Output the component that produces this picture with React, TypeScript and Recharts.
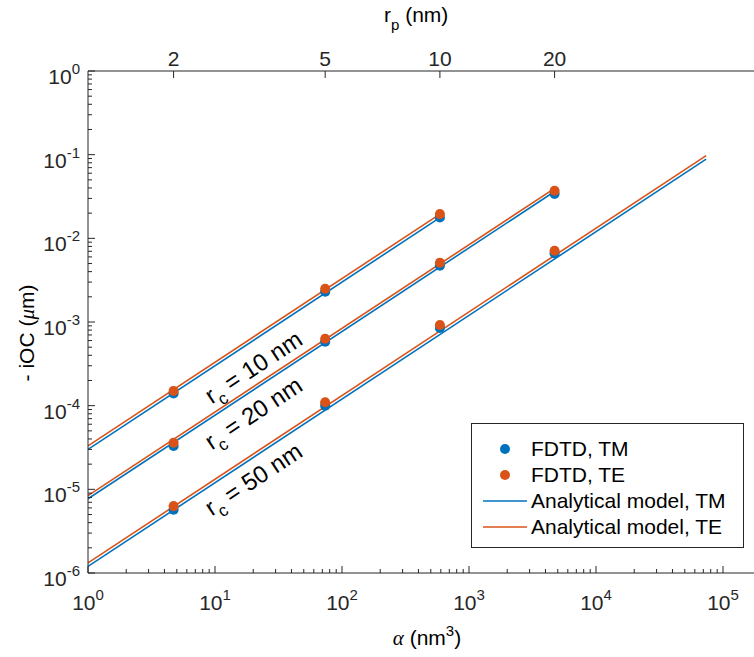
import React from 'react';
import { ComposedChart, Line, Scatter, XAxis, YAxis, ZAxis, Legend } from 'recharts';

const BLUE = '#0072BD';
const ORANGE = '#D95319';
const AXIS = '#262626';
const FONT = '"Liberation Sans", Arial, Helvetica, sans-serif';

// top axis: particle radius r_p (nm) and the matching alpha (nm^3)
const rpLabels = [2, 5, 10, 20];
const rpAlpha = [4.72, 73.7, 590, 4720];

// bottom / left decades
const xMajor = [1, 10, 100, 1000, 10000, 100000];
const yMajor = [1e-6, 1e-5, 1e-4, 1e-3, 1e-2, 1e-1, 1];

// analytical model, end points of each line (alpha, -iOC)
const lineAlpha10 = [1, 590];
const lineAlpha20 = [1, 4720];
const lineAlpha50 = [1, 73700];
const modelTM10 = [3.0e-5, 0.0177];
const modelTE10 = [3.3e-5, 0.0195];
const modelTM20 = [7.7e-6, 0.0363];
const modelTE20 = [8.4e-6, 0.0396];
const modelTM50 = [1.2e-6, 0.0885];
const modelTE50 = [1.32e-6, 0.0974];

// FDTD results at r_p = 2, 5, 10, 20 nm
const fdtdTM10 = [1.4e-4, 2.3e-3, 0.0178];
const fdtdTE10 = [1.5e-4, 2.5e-3, 0.0195];
const fdtdTM20 = [3.3e-5, 5.8e-4, 4.7e-3, 0.034];
const fdtdTE20 = [3.6e-5, 6.3e-4, 5.1e-3, 0.037];
const fdtdTM50 = [5.7e-6, 1.0e-4, 8.5e-4, 6.6e-3];
const fdtdTE50 = [6.3e-6, 1.1e-4, 9.2e-4, 7.1e-3];

const pts = (xs: number[], ys: number[]) => ys.map((v, i) => ({ a: xs[i], v }));

const withMinors = (majors: number[]) => {
  const out: number[] = [];
  majors.forEach((m, i) => {
    out.push(m);
    if (i < majors.length - 1) for (let k = 2; k <= 9; k++) out.push(m * k);
  });
  return out;
};

const xTicks = withMinors([...xMajor, 1000000]);
const yTicks = withMinors(yMajor);

const isMajor = (v: number) => Math.abs(Math.log10(v) - Math.round(Math.log10(v))) < 1e-6;
const expOf = (v: number) => String(Math.round(Math.log10(v)));

const BottomTick = (props: any) => {
  const { x, y, payload } = props;
  const major = isMajor(payload.value);
  const showLabel = major && payload.value <= 100000;
  return (
    <g>
      <line x1={x} x2={x} y1={y} y2={y - (major ? 7 : 4)} stroke={AXIS} strokeWidth={1} />
      {showLabel && (
        <text x={x} y={y + 37} textAnchor="middle" fill={AXIS} fontFamily={FONT} fontSize={21}>
          10<tspan dy={-10} fontSize={15}>{expOf(payload.value)}</tspan>
        </text>
      )}
    </g>
  );
};

const LeftTick = (props: any) => {
  const { x, y, payload } = props;
  const major = isMajor(payload.value);
  return (
    <g>
      <line x1={x} x2={x + (major ? 7 : 4)} y1={y} y2={y} stroke={AXIS} strokeWidth={1} />
      {major && (
        <text x={x - 8} y={y + 13} textAnchor="end" fill={AXIS} fontFamily={FONT} fontSize={21}>
          10<tspan dy={-10} fontSize={15}>{expOf(payload.value)}</tspan>
        </text>
      )}
    </g>
  );
};

const TopTick = (props: any) => {
  const { x, y, payload } = props;
  const idx = rpAlpha.indexOf(payload.value);
  return (
    <g>
      <line x1={x} x2={x} y1={y} y2={y + 7} stroke={AXIS} strokeWidth={1} />
      <text x={x} y={y - 5} textAnchor="middle" fill={AXIS} fontFamily={FONT} fontSize={21}>
        {rpLabels[idx]}
      </text>
    </g>
  );
};

const renderLegend = () => (
  <svg width={273} height={125} style={{ display: 'block' }}>
    <rect x={0.5} y={0.5} width={272} height={124} fill="#fff" stroke={AXIS} strokeWidth={1} />
    <circle cx={34} cy={26} r={5} fill={BLUE} />
    <circle cx={34} cy={52} r={5} fill={ORANGE} />
    <line x1={12} x2={56} y1={78} y2={78} stroke={BLUE} strokeWidth={1.5} />
    <line x1={12} x2={56} y1={104} y2={104} stroke={ORANGE} strokeWidth={1.5} />
    <g fontFamily={FONT} fontSize={21} fill="#000">
      <text x={60} y={33}>FDTD, TM</text>
      <text x={60} y={59}>FDTD, TE</text>
      <text x={60} y={85}>Analytical model, TM</text>
      <text x={60} y={111}>Analytical model, TE</text>
    </g>
  </svg>
);

const App: React.FC = () => {
  return (
    <div style={{ position: 'absolute', left: 0, top: 0, width: 754, height: 657, overflow: 'hidden', background: '#fff' }}>
      <ComposedChart width={860} height={657} margin={{ top: 0, right: 10, bottom: 0, left: 0 }}>
        <XAxis
          xAxisId="top"
          orientation="top"
          type="number"
          scale="log"
          dataKey="a"
          domain={[1, 1000000]}
          allowDataOverflow
          ticks={rpAlpha}
          interval={0}
          height={71}
          tickSize={0}
          tickMargin={0}
          tickLine={false}
          tick={<TopTick />}
          axisLine={{ stroke: AXIS, strokeWidth: 1 }}
        />
        <XAxis
          xAxisId="bottom"
          orientation="bottom"
          type="number"
          scale="log"
          dataKey="a"
          domain={[1, 1000000]}
          allowDataOverflow
          ticks={xTicks}
          interval={0}
          height={84}
          tickSize={0}
          tickMargin={0}
          tickLine={false}
          tick={<BottomTick />}
          axisLine={{ stroke: AXIS, strokeWidth: 1 }}
        />
        <YAxis
          yAxisId="left"
          type="number"
          scale="log"
          dataKey="v"
          domain={[1e-6, 1]}
          allowDataOverflow
          ticks={yTicks}
          interval={0}
          width={88}
          tickSize={0}
          tickMargin={0}
          tickLine={false}
          tick={<LeftTick />}
          axisLine={{ stroke: AXIS, strokeWidth: 1 }}
        />
        <ZAxis range={[80, 80]} />
        <Legend
          content={renderLegend}
          layout="horizontal"
          verticalAlign="middle"
          align="center"
          wrapperStyle={{ left: 471, top: 423, width: 273, height: 125 }}
        />
        <Line xAxisId="bottom" yAxisId="left" data={pts(lineAlpha10, modelTM10)} dataKey="v" stroke={BLUE} strokeWidth={1.6} dot={false} isAnimationActive={false} legendType="none" />
        <Line xAxisId="bottom" yAxisId="left" data={pts(lineAlpha10, modelTE10)} dataKey="v" stroke={ORANGE} strokeWidth={1.6} dot={false} isAnimationActive={false} legendType="none" />
        <Line xAxisId="bottom" yAxisId="left" data={pts(lineAlpha20, modelTM20)} dataKey="v" stroke={BLUE} strokeWidth={1.6} dot={false} isAnimationActive={false} legendType="none" />
        <Line xAxisId="bottom" yAxisId="left" data={pts(lineAlpha20, modelTE20)} dataKey="v" stroke={ORANGE} strokeWidth={1.6} dot={false} isAnimationActive={false} legendType="none" />
        <Line xAxisId="bottom" yAxisId="left" data={pts(lineAlpha50, modelTM50)} dataKey="v" stroke={BLUE} strokeWidth={1.6} dot={false} isAnimationActive={false} legendType="none" />
        <Line xAxisId="bottom" yAxisId="left" data={pts(lineAlpha50, modelTE50)} dataKey="v" stroke={ORANGE} strokeWidth={1.6} dot={false} isAnimationActive={false} legendType="none" />
        <Scatter xAxisId="bottom" yAxisId="left" data={pts(rpAlpha, fdtdTM10)} fill={BLUE} isAnimationActive={false} />
        <Scatter xAxisId="bottom" yAxisId="left" data={pts(rpAlpha, fdtdTM20)} fill={BLUE} isAnimationActive={false} />
        <Scatter xAxisId="bottom" yAxisId="left" data={pts(rpAlpha, fdtdTM50)} fill={BLUE} isAnimationActive={false} />
        <Scatter xAxisId="bottom" yAxisId="left" data={pts(rpAlpha, fdtdTE10)} fill={ORANGE} isAnimationActive={false} />
        <Scatter xAxisId="bottom" yAxisId="left" data={pts(rpAlpha, fdtdTE20)} fill={ORANGE} isAnimationActive={false} />
        <Scatter xAxisId="bottom" yAxisId="left" data={pts(rpAlpha, fdtdTE50)} fill={ORANGE} isAnimationActive={false} />
      </ComposedChart>
      <svg width={754} height={657} style={{ position: 'absolute', left: 0, top: 0, pointerEvents: 'none' }}>
        <g fontFamily={FONT} fill="#000">
          <text x={384} y={22} fontSize={21}>
            r<tspan dy={8} fontSize={15}>p</tspan><tspan dy={-8}> (nm)</tspan>
          </text>
          <text x={427} y={645} textAnchor="middle" fontSize={21}>
            <tspan fontFamily="'Liberation Serif', serif" fontStyle="italic">α</tspan> (nm<tspan dy={-9} fontSize={15}>3</tspan><tspan dy={9}>)</tspan>
          </text>
          <text x={0} y={0} transform="translate(34,333) rotate(-90)" textAnchor="middle" fontSize={21}>
            - iOC (<tspan fontFamily="'Liberation Serif', serif" fontStyle="italic">μ</tspan>m)
          </text>
          <text x={0} y={0} transform="translate(258,374) rotate(-33.4)" textAnchor="middle" fontSize={24}>
            r<tspan dy={7} fontSize={17}>c</tspan><tspan dy={-7}> = 10 nm</tspan>
          </text>
          <text x={0} y={0} transform="translate(258,420) rotate(-33.4)" textAnchor="middle" fontSize={24}>
            r<tspan dy={7} fontSize={17}>c</tspan><tspan dy={-7}> = 20 nm</tspan>
          </text>
          <text x={0} y={0} transform="translate(258,486) rotate(-33.4)" textAnchor="middle" fontSize={24}>
            r<tspan dy={7} fontSize={17}>c</tspan><tspan dy={-7}> = 50 nm</tspan>
          </text>
        </g>
      </svg>
    </div>
  );
};

export default App;
